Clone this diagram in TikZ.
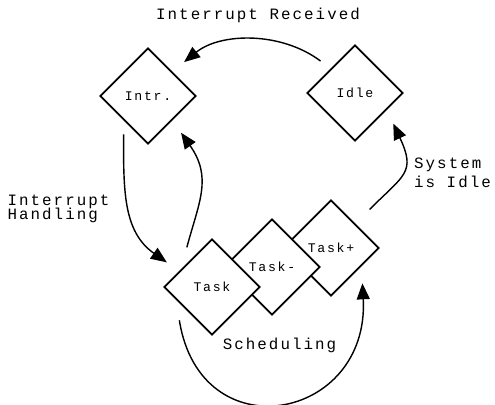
\documentclass[tikz,border=0pt]{standalone}
\usepackage{fontspec}
\usepackage{tikz}
\usetikzlibrary{shapes.geometric}
\usetikzlibrary{arrows.meta}
\newfontfamily\dotfont{Liberation Mono}[LetterSpace=13]
\newcommand\tightlines{\lineskiplimit=-\maxdimen\relax}
\tikzstyle{state} = [diamond, minimum width=1.92cm, minimum height=1.92cm, inner sep=0pt, draw=black, line width=1pt, fill=white, font=\dotfont\fontsize{7.5}{9}\selectfont]
\tikzstyle{lbl} = [inner sep=0pt, font=\dotfont\fontsize{9}{11}\selectfont]
\tikzstyle{arrow} = [-{Triangle[length=0.32cm,width=0.26cm]}, line width=0.8pt]

\begin{document}
\begin{tikzpicture}

  \useasboundingbox (0,0) rectangle (9.9,8.08);

  % states, the task stack back to front
  \node[state] (intr) at (2.96,6.16) {Intr.};
  \node[state] (idle) at (7.10,6.22) {Idle};
  \node[state] (taskp) at (6.62,3.12) {Task+};
  \node[state] (taskm) at (5.44,2.74) {Task-};
  \node[state] (task) at (4.24,2.34) {Task};

  % labels
  \node[lbl] (recv) at (5.16,7.78) {Interrupt Received};
  \node[lbl, align=left, font={\dotfont\fontsize{9}{8}\selectfont\tightlines}] (handl) at (1.17,3.90) {Interrupt\\Handling};
  \node[lbl, align=left, font={\dotfont\fontsize{9}{10.8}\selectfont}] (sysidle) at (9.05,4.63) {System\\is Idle};
  \node[lbl] (sched) at (5.59,1.18) {Scheduling};

  % transitions
  \draw[arrow, shorten <=0.25cm, shorten >=0.30cm] (idle.north west) to[bend right=38] (intr.north east);
  \draw[arrow, shorten <=0.28cm, shorten >=0.30cm] (intr.south west) to[out=-90, in=145, looseness=1.1] (task.154);
  \draw[arrow, shorten <=0.45cm, shorten >=0.30cm] (task.150) to[out=75, in=-55, looseness=1.2] (intr.south east);
  \draw[arrow, shorten <=0.40cm, shorten >=0.30cm] (taskp.north east) to[out=45, in=-65, looseness=1.5] (idle.-28);
  \draw[arrow, shorten <=0.41cm, shorten >=0.34cm] (task.200) to[out=-81, in=-87, looseness=2.1] (taskp.-31);

\end{tikzpicture}
\end{document}
